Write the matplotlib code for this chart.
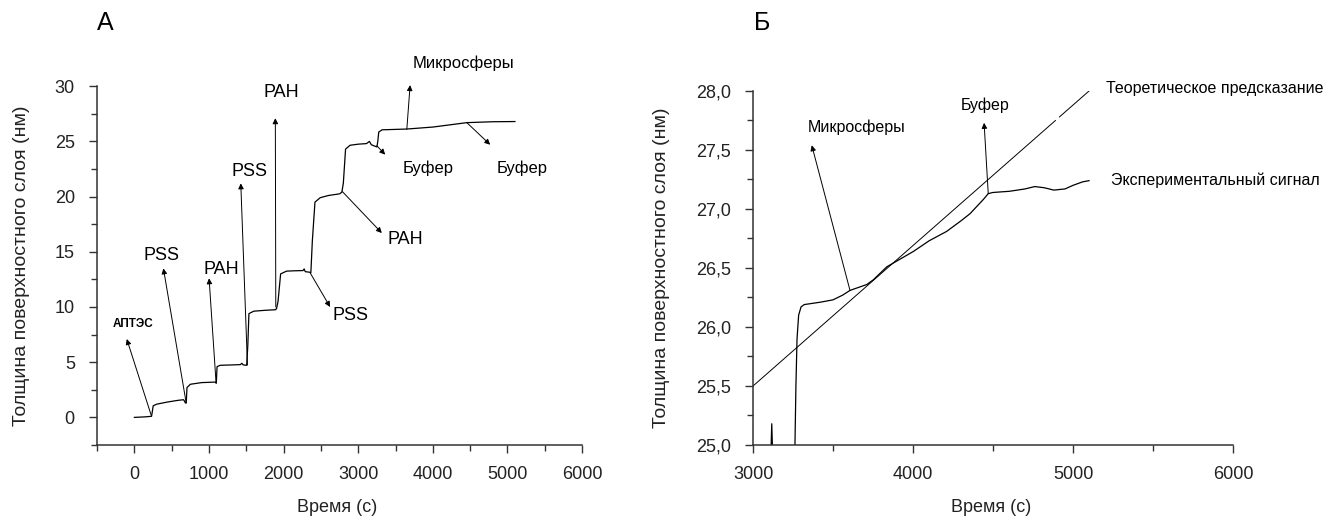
import numpy as np
import matplotlib
matplotlib.use("Agg")
import matplotlib.pyplot as plt
from matplotlib.ticker import MultipleLocator, FuncFormatter

plt.rcParams['font.family'] = ['Liberation Sans', 'DejaVu Sans']

# --- данные панели А: весь эксперимент ---
time_a = [0, 150, 230, 240, 252, 300, 450, 590, 660, 685, 695, 705, 750, 900,
          1082, 1098, 1108, 1150, 1300, 1420, 1440, 1460, 1505, 1520, 1535,
          1600, 1750, 1890, 1905, 1925, 1960, 2040, 2150, 2260, 2275, 2290,
          2350, 2365, 2385, 2420, 2490, 2600, 2750, 2780, 2800, 2830, 2890,
          3000, 3110, 3150, 3175, 3210, 3250, 3262, 3275, 3320, 3650, 4000,
          4455, 4800, 5100]
thick_a = [0.0, 0.05, 0.1, 0.5, 1.05, 1.2, 1.4, 1.55, 1.6, 1.3, 1.3, 2.7, 3.0,
           3.15, 3.2, 3.1, 4.6, 4.72, 4.75, 4.78, 4.9, 4.75, 4.72, 6.5, 9.4,
           9.62, 9.7, 9.75, 9.85, 10.5, 13.0, 13.25, 13.28, 13.3, 13.45, 13.2,
           13.15, 13.1, 16.0, 19.5, 19.9, 20.1, 20.25, 20.4, 21.2, 24.3, 24.65,
           24.75, 24.8, 25.0, 24.7, 24.6, 24.5, 25.0, 25.85, 26.05, 26.12, 26.3,
           26.7, 26.78, 26.8]

# --- данные панели Б: микросферы ---
time_b = [3090, 3110, 3117, 3124, 3240, 3255, 3262, 3268, 3275, 3285, 3300,
          3320, 3420, 3500, 3560, 3606, 3711, 3752, 3836, 4002, 4100, 4210,
          4300, 4356, 4439, 4470, 4500, 4603, 4700, 4761, 4820, 4880, 4950,
          4999, 5060, 5100]
thick_b = [24.8, 24.85, 25.18, 24.85, 24.5, 24.6, 25.0, 25.5, 25.9, 26.1, 26.17,
           26.19, 26.21, 26.23, 26.27, 26.31, 26.36, 26.40, 26.51, 26.64, 26.73,
           26.81, 26.90, 26.96, 27.08, 27.13, 27.14, 27.15, 27.17, 27.19, 27.18,
           27.16, 27.17, 27.20, 27.23, 27.24]

theory_t = [3000, 4890, np.nan, 4915, 5100]
theory_y = [25.5, 27.75, np.nan, 27.78, 28.0]

# подписи со стрелками: (текст, хвост, остриё, позиция текста, размер, жирный)
labels_a = [
    ("АПТЭС", (225, 0.2), (-102, 7.1), (-20, 8.5), 8.5, True),
    ("PSS", (693, 1.37), (389, 13.5), (367, 14.7), 13, False),
    ("PAH", (1095, 3.1), (1001, 12.6), (1162, 13.4), 13, False),
    ("PSS", (1515, 4.75), (1426, 21.2), (1542, 22.3), 13, False),
    ("PAH", (1895, 10.0), (1889, 27.1), (1965, 29.4), 13, False),
    ("PSS", (2355, 13.1), (2623, 10.0), (2901, 9.2), 13, False),
    ("PAH", (2788, 20.45), (3316, 16.7), (3629, 16.1), 13, False),
    ("Буфер", (3250, 24.6), (3361, 23.8), (3942, 22.6), 12, False),
    ("Буфер", (4455, 26.7), (4768, 24.7), (5193, 22.6), 12, False),
    ("Микросферы", (3651, 26.1), (3695, 30.1), (4411, 32.1), 12, False),
]
labels_b = [
    ("Микросферы", (3606, 26.31), (3367, 27.54), (3648, 27.69)),
    ("Буфер", (4470, 27.13), (4444, 27.73), (4450, 27.88)),
]

fig = plt.figure(figsize=(13.26, 5.19), dpi=100)
ax_a = fig.add_axes([0.0732, 0.1426, 0.3658, 0.6913])
ax_b = fig.add_axes([0.5679, 0.1426, 0.3620, 0.6821])

arrow = dict(arrowstyle='-|>', color='black', lw=0.7, mutation_scale=8,
             shrinkA=0, shrinkB=0)


def style_axes(ax):
    for side in ('top', 'right'):
        ax.spines[side].set_visible(False)
    for side in ('left', 'bottom'):
        ax.spines[side].set_color('#333333')
        ax.spines[side].set_linewidth(1.1)
    ax.tick_params(which='both', direction='out', color='#333333', width=1.0,
                   labelsize=13, labelcolor='#222222')
    ax.tick_params(which='major', length=6)
    ax.tick_params(which='minor', length=4)
    ax.tick_params(axis='x', pad=9)
    ax.tick_params(axis='y', pad=10)


# панель А
ax_a.plot(time_a, thick_a, color='black', lw=0.9)
ax_a.set_xlim(-500, 6000)
ax_a.set_ylim(-2.5, 30)
ax_a.xaxis.set_major_locator(MultipleLocator(1000))
ax_a.xaxis.set_minor_locator(MultipleLocator(500))
ax_a.yaxis.set_major_locator(MultipleLocator(5))
ax_a.yaxis.set_minor_locator(MultipleLocator(2.5))
ax_a.set_yticks([0, 5, 10, 15, 20, 25, 30])
style_axes(ax_a)
ax_a.set_xlabel("Время (с)", fontsize=13, color='#222222')
ax_a.set_ylabel("Толщина поверхностного слоя (нм)", fontsize=14, color='#222222')
ax_a.xaxis.set_label_coords(0.494, -0.150)
ax_a.yaxis.set_label_coords(-0.138, 0.5)

for text, tail, head, pos, size, bold in labels_a:
    ax_a.annotate('', xy=head, xytext=tail, arrowprops=arrow, annotation_clip=False)
    ax_a.text(pos[0], pos[1], text, fontsize=size, ha='center', va='center',
              fontweight='bold' if bold else 'normal', clip_on=False)

# панель Б
ax_b.plot(theory_t, theory_y, color='black', lw=0.7)
ax_b.plot(time_b, thick_b, color='black', lw=0.9)
ax_b.set_xlim(3000, 6000)
ax_b.set_ylim(25, 28)
ax_b.xaxis.set_major_locator(MultipleLocator(1000))
ax_b.xaxis.set_minor_locator(MultipleLocator(500))
ax_b.yaxis.set_major_locator(MultipleLocator(0.5))
ax_b.yaxis.set_minor_locator(MultipleLocator(0.25))
ax_b.yaxis.set_major_formatter(FuncFormatter(lambda v, p: f"{v:.1f}".replace('.', ',')))
style_axes(ax_b)
ax_b.set_xlabel("Время (с)", fontsize=13, color='#222222')
ax_b.set_ylabel("Толщина поверхностного слоя (нм)", fontsize=14, color='#222222')
ax_b.xaxis.set_label_coords(0.495, -0.153)
ax_b.yaxis.set_label_coords(-0.173, 0.5)

for text, tail, head, pos in labels_b:
    ax_b.annotate('', xy=head, xytext=tail, arrowprops=arrow)
    ax_b.text(pos[0], pos[1], text, fontsize=11.5, ha='center', va='center')

ax_b.text(5205, 28.02, "Теоретическое предсказание", fontsize=11.5, ha='left',
          va='center', clip_on=False)
ax_b.text(5237, 27.24, "Экспериментальный сигнал", fontsize=11.5, ha='left',
          va='center', clip_on=False)

fig.text(105 / 1326, 1 - 23 / 519, "А", fontsize=18, ha='center', va='center')
fig.text(762 / 1326, 1 - 23 / 519, "Б", fontsize=18, ha='center', va='center')

fig.savefig("out.png", dpi=100)
